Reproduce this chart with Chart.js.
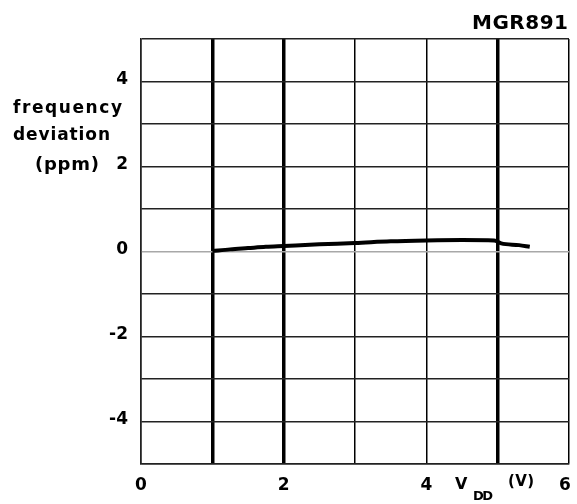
<!DOCTYPE html>
<html>
<head>
<meta charset="utf-8">
<script src="https://cdn.jsdelivr.net/npm/chart.js@4.4.1/dist/chart.umd.min.js"></script>
<style>
html,body{margin:0;padding:0;background:#fff;}
#wrap{width:577px;height:504px;}
</style>
</head>
<body>
<div id="wrap"><canvas id="c" width="577" height="504"></canvas></div>
<script>
// Data
const vddValues = [1.0, 1.25, 1.5, 1.75, 2.0, 2.5, 3.0, 3.5, 4.0, 4.5, 4.95, 5.05, 5.3, 5.45];
const deviationValues = [0.01, 0.05, 0.08, 0.11, 0.13, 0.17, 0.20, 0.24, 0.26, 0.27, 0.26, 0.19, 0.15, 0.11];
const xTickLabels = ['0', '2', '4', '6'];
const yTickLabels = ['4', '2', '0', '-2', '-4'];
const thickXLines = [1, 2, 5];
const chartCode = 'MGR891';
const yTitleLines = ['frequency', 'deviation', '(ppm)'];

const FONT = '"DejaVu Sans", "Liberation Sans", Arial, sans-serif';

function fitText(ctx, text, x, y, width, align) {
  ctx.letterSpacing = '0px';
  const w = ctx.measureText(text).width;
  const n = text.length;
  const ls = n > 1 ? (width - w) / (n - 1) : 0;
  ctx.letterSpacing = ls + 'px';
  ctx.textAlign = 'left';
  let sx = x;
  if (align === 'right') sx = x - width;
  else if (align === 'center') sx = x - width / 2;
  ctx.fillText(text, sx, y);
  ctx.letterSpacing = '0px';
}

const labelPlugin = {
  id: 'labels',
  afterDraw(chart) {
    const ctx = chart.ctx;
    const xs = chart.scales.x, ys = chart.scales.y;
    ctx.save();
    ctx.fillStyle = '#000';
    ctx.textBaseline = 'middle';
    // y tick labels
    ctx.font = 'bold 17px ' + FONT;
    ctx.textAlign = 'right';
    yTickLabels.forEach(t => {
      ctx.fillText(t, 128, ys.getPixelForValue(parseFloat(t)) - 2);
    });
    // x tick labels
    ctx.textAlign = 'center';
    xTickLabels.forEach(t => {
      const v = parseFloat(t);
      let px = xs.getPixelForValue(v);
      if (v === 6) px -= 4;
      ctx.fillText(t, px, 486);
    });
    // axis title x: V_DD (V)
    ctx.textAlign = 'left';
    ctx.font = 'bold 16px ' + FONT;
    ctx.fillText('V', 455, 485);
    ctx.font = 'bold 13px ' + FONT;
    fitText(ctx, 'DD', 473, 497, 20, 'left');
    ctx.font = 'bold 15px ' + FONT;
    fitText(ctx, '(V)', 508, 482, 26, 'left');
    // y title
    ctx.font = 'bold 17px ' + FONT;
    ctx.textBaseline = 'alphabetic';
    fitText(ctx, yTitleLines[0], 13, 113, 109, 'left');
    fitText(ctx, yTitleLines[1], 13, 140, 97, 'left');
    ctx.font = 'bold 18px ' + FONT;
    fitText(ctx, yTitleLines[2], 35, 170, 64, 'left');
    // code
    ctx.font = 'bold 20px ' + FONT;
    fitText(ctx, chartCode, 568, 29, 96, 'right');
    ctx.restore();
  }
};

new Chart(document.getElementById('c'), {
  type: 'scatter',
  data: {
    datasets: [{
      data: vddValues.map((v, i) => ({x: v, y: deviationValues[i]})),
      showLine: true,
      borderColor: '#000',
      borderWidth: 4,
      pointRadius: 0,
      cubicInterpolationMode: 'monotone',
      fill: false
    }]
  },
  options: {
    responsive: false,
    animation: false,
    devicePixelRatio: 1,
    layout: {padding: {left: 141, right: 8, top: 39, bottom: 40}},
    plugins: {legend: {display: false}, tooltip: {enabled: false}},
    scales: {
      x: {
        type: 'linear', min: 0, max: 6,
        ticks: {display: false, stepSize: 1},
        grid: {
          drawTicks: false,
          color: '#000',
          lineWidth: (c) => thickXLines.includes(c.tick && c.tick.value) ? 3.5 : 1.5
        },
        border: {display: true, color: '#222', width: 1.5}
      },
      y: {
        type: 'linear', min: -5, max: 5,
        ticks: {display: false, stepSize: 1},
        grid: {
          drawTicks: false,
          color: (c) => (c.tick && c.tick.value === 0) ? '#a8a8a8' : '#222',
          lineWidth: 1.5
        },
        border: {display: true, color: '#222', width: 1.5}
      }
    }
  },
  plugins: [labelPlugin]
});
</script>
</body>
</html>
